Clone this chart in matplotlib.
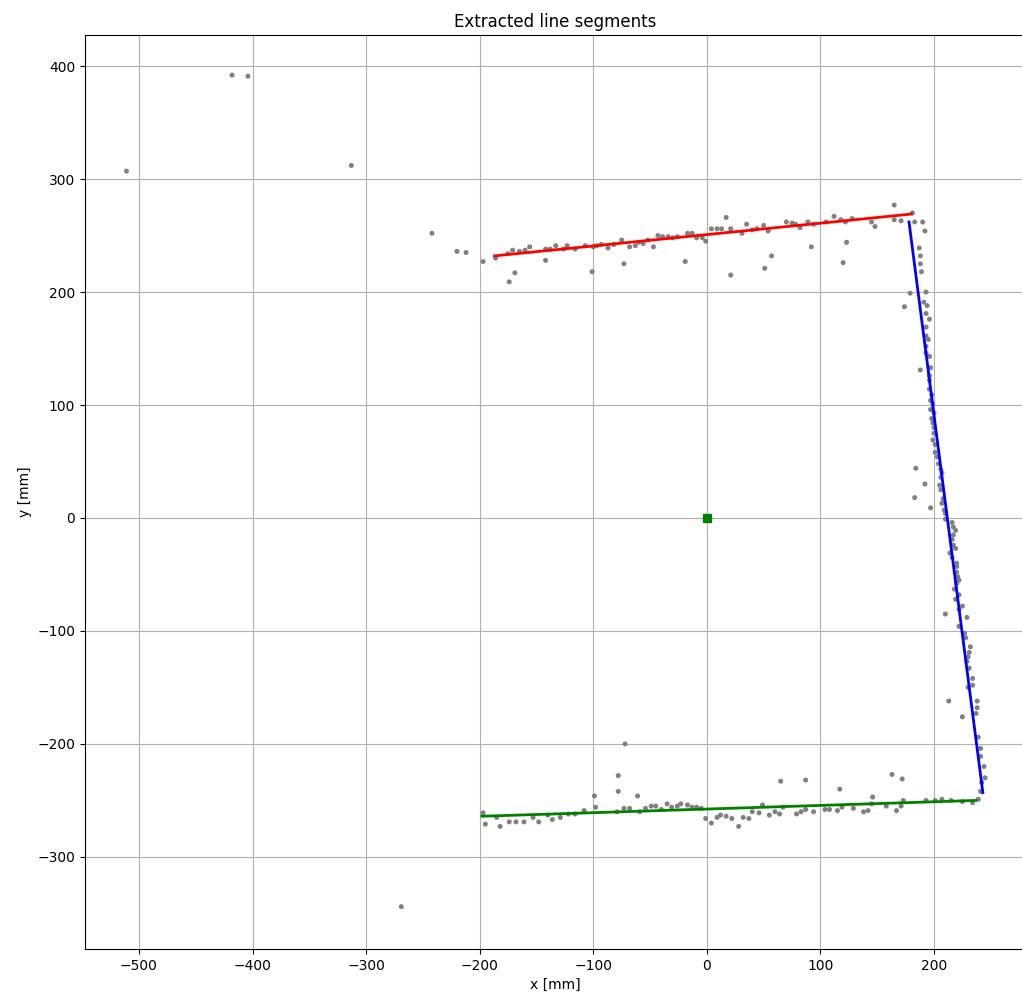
import numpy as np
from matplotlib import pyplot as plt

# scan points [mm]
pts_x = [
    -511, -418, -404, -313, -269, -242, -220, -212,
    -197, -186, -175, -171, -174, -169, -165, -160, -156, -142, -142, -138, -133, -126,
    -123, -116, -107, -101, -100, -97, -93, -87, -82, -75, -73, -68, -63, -60, -56, -52,
    -47, -43, -39, -34, -30, -26, -19, -17, -13, -9, -4, -1, 4, 9, 13, 17, 21, 21, 31,
    35, 40, 44, 50, 51, 54, 57, 70, 75, 78, 82, 89, 92, 94, 105, 112, 118, 122, 123, 120,
    128, 145, 148, 165, 165, 171, 181, 183, 190, 192, 187, 188, 188, 189,
    179, 193, 174, 191, 194, 193, 196, 193, 193, 195, 193, 193, 196, 188, 197, 196, 196,
    196, 198, 197, 199, 197, 200, 198, 199, 200, 200, 199, 201, 201, 203, 204, 184, 206,
    207, 206, 192, 205, 206, 183, 208, 207, 197, 209, 210, 210, 216, 217, 219, 217, 216,
    217, 219, 214, 216, 220, 220, 220, 221, 222, 220, 218, 222, 219, 225, 222, 210, 229,
    222, 227, 228, 232, 231, 230, 229, 231, 234, 234, 230, 213, 238, 238, 237, 225, 239,
    241, 241, 244, 245, 242, 241, 239, 234, 225, 215, 207, 201, 193, 173, 172, 171,
    -197, -195, -185, -182, -174, -168, -161, -153, -148, -140, -136, -129, -122, -116,
    -108, -99, -98, -79, -78, -78, -72, -73, -68, -61, -59, -54, -49, -45, -40, -35, -31,
    -26, -23, -17, -13, -9, -5, -1, 4, 9, 12, 17, 22, 28, 32, 37, 40, 46, 49, 55, 60, 64,
    65, 67, 79, 83, 87, 87, 94, 104, 108, 115, 117, 119, 129, 138, 142, 145, 146, 158,
    163, 167,
]
pts_y = [
    307, 392, 391, 312, -344, 252, 236, 235,
    227, 230, 234, 237, 209, 217, 236, 237, 240, 238, 228, 238, 241, 238,
    241, 238, 241, 218, 240, 241, 242, 239, 242, 246, 225, 240, 241, 244, 243, 246,
    240, 250, 249, 249, 248, 249, 227, 252, 252, 248, 248, 245, 256, 256, 256, 266, 256, 215, 252,
    260, 255, 256, 259, 221, 254, 232, 262, 261, 260, 257, 262, 240, 260, 262, 267, 264, 262, 244, 226,
    265, 262, 258, 277, 264, 263, 270, 262, 262, 254, 239, 232, 225, 218,
    199, 200, 187, 191, 188, 181, 176, 169, 161, 158, 152, 146, 143, 131, 133, 126, 122,
    114, 109, 104, 101, 96, 93, 88, 84, 80, 75, 69, 65, 58, 54, 48, 44, 43,
    40, 36, 30, 29, 25, 18, 17, 13, 9, 7, 4, -1, -4, -8, -11, -15, -19,
    -24, -27, -31, -35, -40, -43, -48, -52, -55, -58, -63, -68, -72, -78, -81, -85, -88,
    -96, -102, -106, -114, -119, -123, -127, -133, -142, -148, -150, -162, -162, -168, -173, -176, -194,
    -204, -211, -220, -230, -234, -242, -249, -252, -251, -250, -249, -250, -250, -250, -231, -255,
    -261, -271, -265, -273, -269, -269, -269, -265, -269, -263, -267, -265, -262, -262,
    -259, -246, -256, -260, -228, -242, -200, -257, -257, -246, -260, -257, -255, -255, -258, -253, -256,
    -255, -253, -254, -256, -256, -257, -266, -270, -265, -263, -264, -266, -273, -265, -266, -260, -261, -254, -263, -260, -262,
    -233, -256, -262, -260, -258, -232, -260, -258, -258, -259, -240, -256, -257, -260, -259, -253, -247, -255,
    -227, -259,
]

# fitted segments (start, end) [mm]
red_x = [-187, 180]
red_y = [232, 269]
blue_x = [178, 243]
blue_y = [262, -243]
green_x = [-198, 237]
green_y = [-264, -250]

plt.figure(figsize=(10.22, 10.01), dpi=100)
ax = plt.axes([85/1022, 52/1001, 941/1022, 914/1001])
ax.scatter(pts_x, pts_y, s=13, c='gray', edgecolors='none', zorder=3)
ax.plot(red_x, red_y, color='red', lw=2, zorder=4)
ax.plot(blue_x, blue_y, color='blue', lw=2, zorder=4)
ax.plot(green_x, green_y, color='green', lw=2, zorder=4)
ax.plot([0], [0], 's', color='green', ms=6, zorder=5)
ax.set_xlim(-547.5, 281)
ax.set_ylim(-381.5, 427.5)
ax.set_xticks([-500, -400, -300, -200, -100, 0, 100, 200])
ax.set_yticks([-300, -200, -100, 0, 100, 200, 300, 400])
ax.grid(True, zorder=0)
ax.set_axisbelow(True)
ax.set_title('Extracted line segments')
ax.set_xlabel('x [mm]')
ax.set_ylabel('y [mm]')
plt.savefig('out.png', dpi=100)
